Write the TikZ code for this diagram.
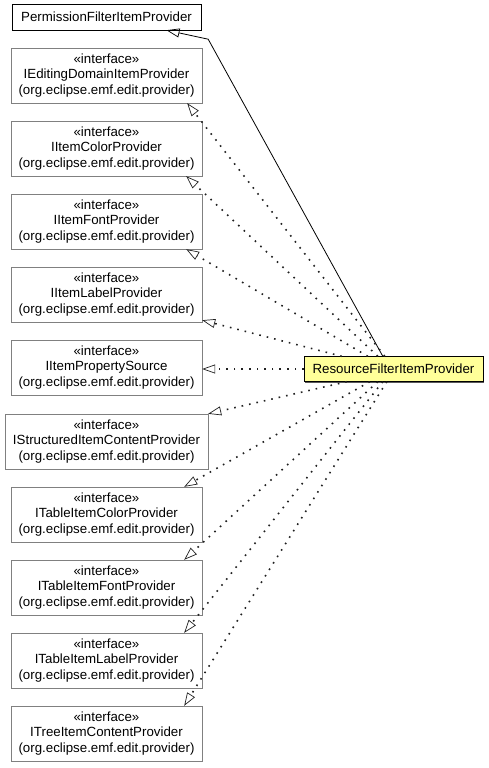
\documentclass[tikz,border=0pt]{standalone}
\usepackage{fontspec}
\setmainfont{Liberation Sans}
\usepackage{tikz}
\usetikzlibrary{calc,arrows.meta,shadows}
\definecolor{resyellow}{RGB}{255,255,153}

\tikzset{
    iface/.style={draw=gray, fill=white, minimum width=191pt, minimum height=55pt,
        align=center, inner sep=0pt, font=\fontsize{13.3}{15.3}\selectfont,
        drop shadow={shadow xshift=1pt, shadow yshift=-1pt, fill=gray!70!black, opacity=1}},
    cls/.style={iface, draw=black, minimum height=26pt},
    realizes/.style={gray!25!black, line width=1.6pt, dash pattern=on 1.6pt off 6pt,
        -{Triangle[open, line width=0.7pt, length=13pt, width=9pt]}},
    extends/.style={black, line width=0.8pt,
        -{Triangle[open, line width=0.7pt, length=13pt, width=9pt]}}
}

\begin{document}
\begin{tikzpicture}[x=1pt, y=-1pt]
            \useasboundingbox (0,0) rectangle (488,768);
            \node[cls, minimum width=189pt] (perm) at (106.5,17) {PermissionFilterItemProvider};
            \node[iface] (edit) at (106.5,75.5) {«interface»\\IEditingDomainItemProvider\\(org.eclipse.emf.edit.provider)};
            \node[iface] (color) at (106.5,148.5) {«interface»\\IItemColorProvider\\(org.eclipse.emf.edit.provider)};
            \node[iface] (font) at (106.5,221.5) {«interface»\\IItemFontProvider\\(org.eclipse.emf.edit.provider)};
            \node[iface] (label) at (106.5,294.5) {«interface»\\IItemLabelProvider\\(org.eclipse.emf.edit.provider)};
            \node[iface] (psource) at (106.5,367.5) {«interface»\\IItemPropertySource\\(org.eclipse.emf.edit.provider)};
            \node[iface, minimum width=203pt] (struct) at (106.5,441.5) {«interface»\\IStructuredItemContentProvider\\(org.eclipse.emf.edit.provider)};
            \node[iface] (tcolor) at (106.5,514.5) {«interface»\\ITableItemColorProvider\\(org.eclipse.emf.edit.provider)};
            \node[iface] (tfont) at (106.5,587.5) {«interface»\\ITableItemFontProvider\\(org.eclipse.emf.edit.provider)};
            \node[iface] (tlabel) at (106.5,660.5) {«interface»\\ITableItemLabelProvider\\(org.eclipse.emf.edit.provider)};
            \node[iface] (tree) at (106.5,733.5) {«interface»\\ITreeItemContentProvider\\(org.eclipse.emf.edit.provider)};
            \node[cls, fill=resyellow, minimum width=179pt, minimum height=25pt] (res) at (393.5,369) {ResourceFilterItemProvider};

            % attach points on the class box
            \coordinate (rPerm) at ($(res.north west)+(79,0)$);
            \coordinate (rEdit) at ($(res.north west)+(81,0)$);
            \coordinate (rColor) at ($(res.north west)+(74,0)$);
            \coordinate (rFont) at ($(res.north west)+(64,0)$);
            \coordinate (rLabel) at ($(res.north west)+(38,0)$);
            \coordinate (rStruct) at ($(res.south west)+(43,0)$);
            \coordinate (rTColor) at ($(res.south west)+(66,0)$);
            \coordinate (rTFont) at ($(res.south west)+(74,0)$);
            \coordinate (rTLabel) at ($(res.south west)+(79,0)$);
            \coordinate (rTree) at ($(res.south west)+(83,0)$);
            \coordinate (bend) at ($(perm.south east)+(7,9)$);

            \draw[extends] (rPerm) -- (bend) -- ($(perm.south)+(60,0)$);
            \draw[realizes] (rEdit) -- ($(edit.south east)+(-15,0)$);
            \draw[realizes] (rColor) -- ($(color.south east)+(-16,0)$);
            \draw[realizes] (rFont) -- ($(font.south east)+(-16,0)$);
            \draw[realizes] (rLabel) -- ($(label.south east)+(0,-2)$);
            \draw[realizes] (res.west) -- (psource.east |- res.west);
            \draw[realizes] (rStruct) -- (struct.north east);
            \draw[realizes] (rTColor) -- ($(tcolor.north east)+(-18,0)$);
            \draw[realizes] (rTFont) -- ($(tfont.north east)+(-18,0)$);
            \draw[realizes] (rTLabel) -- ($(tlabel.north east)+(-18,0)$);
            \draw[realizes] (rTree) -- ($(tree.north east)+(-18,0)$);
        \end{tikzpicture}
\end{document}
